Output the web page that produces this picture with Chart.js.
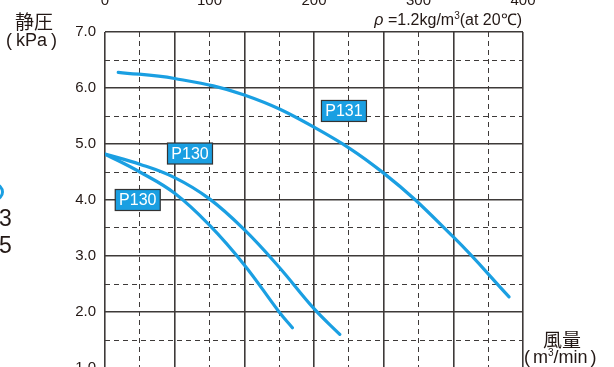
<!DOCTYPE html>
<html>
<head>
<meta charset="utf-8">
<script src="https://cdn.jsdelivr.net/npm/chart.js@4/dist/chart.umd.min.js"></script>
<style>
    html, body { margin: 0; padding: 0; background: #fff; overflow: hidden; }
    #wrap { position: relative; width: 614px; height: 367px; overflow: hidden; }
    #chart { position: absolute; left: 0; top: -20px; }
    .txt { position: absolute; color: #231815; white-space: nowrap; line-height: 1; }
    .cjk { font-family: "Noto Sans CJK JP", sans-serif; }
    .lat { font-family: "Liberation Sans", Arial, sans-serif; }
</style>
</head>
<body>
<div id="wrap">
    <canvas id="chart" width="614" height="480"></canvas>
    <div class="txt cjk" style="left:15px; top:11px; font-size:19px;">静圧</div>
    <div class="txt lat" style="left:6px; top:31px; font-size:18px;">(<span style="margin:0 4px;">kPa</span>)</div>
    <div class="txt lat" style="right:92px; top:11px; font-size:16px;"><i>ρ</i> =1.2kg/m<sup style="font-size:10px;">3</sup>(at 20℃)</div>
    <div class="txt cjk" style="left:543px; top:329px; font-size:19px;">風量</div>
    <div class="txt lat" style="left:524px; top:348px; font-size:18px;">(<span style="margin:0 3px;">m<sup style="font-size:10px;">3</sup>/min</span>)</div>
    <div class="txt lat" style="left:-1px; top:207px; font-size:23px;">3</div>
    <div class="txt lat" style="left:-1px; top:234px; font-size:23px;">5</div>
    <div style="position:absolute; left:-14px; top:183px; width:12px; height:12px; border:3px solid #1a9fe2; border-radius:50%;"></div>
</div>
<script>
    // Flow (m3/min) and static pressure (kPa)
    const p131Flow = [0.19, 1.0, 2.0, 3.0, 4.0, 5.0, 5.8];
    const p131Pressure = [6.28, 6.17, 5.875, 5.3, 4.48, 3.34, 2.27];

    const p130aFlow = [0, 0.5, 1.0, 1.5, 2.0, 2.5, 3.0, 3.37];
    const p130aPressure = [4.82, 4.64, 4.4, 4.02, 3.47, 2.8, 2.06, 1.6];

    const p130bFlow = [0, 0.5, 1.0, 1.5, 2.0, 2.5, 2.69];
    const p130bPressure = [4.82, 4.5, 4.12, 3.55, 2.84, 2.0, 1.72];

    // Model tags, placed in data coordinates
    const tagTexts = ['P131', 'P130', 'P130'];
    const tagFlow = [3.43, 1.22, 0.47];
    const tagPressure = [5.59, 4.83, 4.0];

    // Top axis tick labels
    const topTicks = [0, 100, 200, 300, 400];

    const BLUE = '#1a9fe2';
    const GRID = '#3e3a39';

    const toPoints = function (xs, ys) {
        return xs.map((x, i) => ({x: x, y: ys[i]}));
    };

    const isMajor = function (ctx) {
        return ctx.tick && Math.abs(ctx.tick.value - Math.round(ctx.tick.value)) < 1e-6;
    };

    const gridOpts = {
        color: GRID,
        lineWidth: (ctx) => isMajor(ctx) ? 1.6 : 1,
        drawTicks: false,
    };
    const borderOpts = {
        display: false,
        dash: (ctx) => (!ctx.tick || isMajor(ctx)) ? [] : [5, 4],
    };

    // draws the little blue name boxes
    const tagPlugin = {
        id: 'tags',
        afterDatasetsDraw: function (chart) {
            const ctx = chart.ctx;
            const xs = chart.scales.x;
            const ys = chart.scales.y;
            ctx.save();
            ctx.font = '16px "Liberation Sans", Arial, sans-serif';
            ctx.textAlign = 'center';
            ctx.textBaseline = 'middle';
            tagTexts.forEach((t, i) => {
                const cx = xs.getPixelForValue(tagFlow[i]);
                const cy = ys.getPixelForValue(tagPressure[i]);
                ctx.fillStyle = BLUE;
                ctx.fillRect(cx - 22.5, cy - 10.5, 45, 21);
                ctx.strokeStyle = '#333';
                ctx.lineWidth = 1.2;
                ctx.strokeRect(cx - 22.5, cy - 10.5, 45, 21);
                ctx.fillStyle = '#fff';
                ctx.fillText(t, cx, cy + 1);
            });
            ctx.restore();
        }
    };

    const lineSet = function (xs, ys) {
        return {
            data: toPoints(xs, ys),
            borderColor: BLUE,
            borderWidth: 3.2,
            borderCapStyle: 'round',
            pointRadius: 0,
            tension: 0.4,
            fill: false,
        };
    };

    const chart = new Chart(document.getElementById('chart'), {
        type: 'line',
        data: {
            datasets: [
                lineSet(p131Flow, p131Pressure),
                lineSet(p130aFlow, p130aPressure),
                lineSet(p130bFlow, p130bPressure),
            ]
        },
        options: {
            responsive: false,
            devicePixelRatio: 1,
            animation: false,
            layout: {padding: {left: 0, right: 91, top: 0, bottom: 0}},
            plugins: {legend: {display: false}, tooltip: {enabled: false}},
            scales: {
                x: {
                    type: 'linear',
                    position: 'bottom',
                    min: 0,
                    max: 6,
                    ticks: {stepSize: 0.5, display: false},
                    grid: gridOpts,
                    border: borderOpts,
                    afterFit: (s) => { s.height = 92; },
                },
                x2: {
                    type: 'linear',
                    position: 'top',
                    min: 0,
                    max: 400,
                    afterBuildTicks: (s) => { s.ticks = topTicks.map((v) => ({value: v})); },
                    ticks: {
                        padding: 14,
                        color: '#231815',
                        font: {family: '"Liberation Sans", Arial, sans-serif', size: 15},
                        maxRotation: 0,
                        autoSkip: false,
                    },
                    grid: {display: false},
                    border: {display: false},
                    afterFit: (s) => { s.height = 52; },
                },
                y: {
                    type: 'linear',
                    min: 1,
                    max: 7,
                    ticks: {
                        stepSize: 0.5,
                        padding: 9,
                        color: '#231815',
                        font: {family: '"Liberation Sans", Arial, sans-serif', size: 15},
                        callback: (v) => Number.isInteger(v) ? v.toFixed(1) : '',
                    },
                    grid: gridOpts,
                    border: borderOpts,
                    afterFit: (s) => { s.width = 105; },
                },
            }
        },
        plugins: [tagPlugin],
    });
</script>
</body>
</html>
